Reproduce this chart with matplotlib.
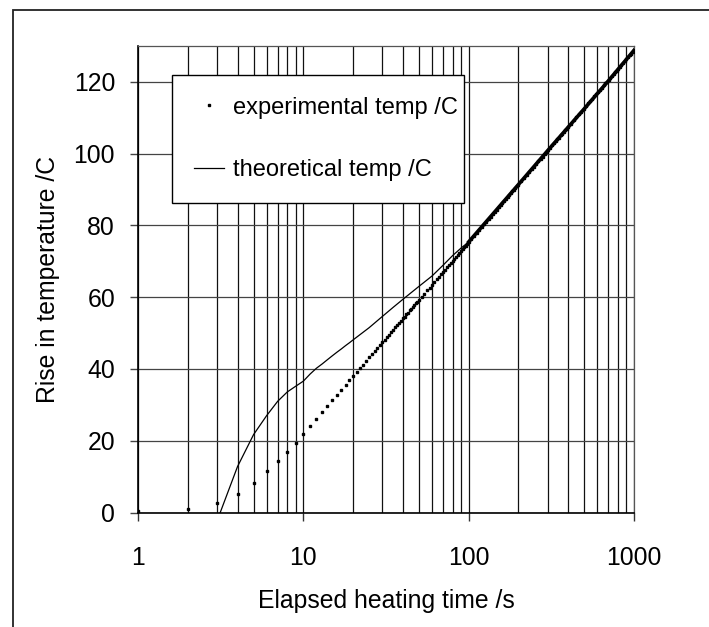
import matplotlib
matplotlib.use("Agg")
import matplotlib.pyplot as plt
from matplotlib.patches import Rectangle
from matplotlib.ticker import LogLocator, FixedLocator, NullFormatter

plt.rcParams["font.family"] = ["Liberation Sans", "DejaVu Sans"]

# experimental readings (time s, rise in temperature C)
exp_t = [1, 2, 3, 4, 5, 6, 7, 8, 9, 10,
         11, 12, 13, 14, 15, 16, 17, 18, 19, 20,
         21, 22, 23, 24, 25, 26, 27, 28, 29, 30,
         31, 32, 33, 34, 35, 36, 37, 38, 39, 40,
         41, 42, 43, 44, 45, 46, 47, 48, 49, 50,
         52, 54, 56, 58, 60, 62, 64, 66, 68, 70,
         72, 74, 76, 78, 80, 82, 84, 86, 88, 90,
         92, 94, 96, 98, 100,
         104, 108, 112, 116, 120, 124, 128, 132, 136, 140,
         144, 148, 152, 156, 160, 164, 168, 172, 176, 180,
         184, 188, 192, 196, 200,
         208, 216, 224, 232, 240, 248, 256, 264, 272, 280,
         288, 296, 304, 312, 320, 328, 336, 344, 352, 360,
         368, 376, 384, 392, 400,
         416, 432, 448, 464, 480, 496, 512, 528, 544, 560,
         576, 592, 608, 624, 640, 656, 672, 688, 704, 720,
         736, 752, 768, 784, 800,
         820, 840, 860, 880, 900, 920, 940, 960, 980, 1000]
exp_temp = [0.3, 0.9, 2.7, 5.1, 8.3, 11.5, 14.3, 17.0, 19.5, 21.9,
            24.1, 26.1, 28.0, 29.7, 31.3, 32.8, 34.2, 35.5, 36.8, 38.0,
            39.1, 40.2, 41.2, 42.2, 43.2, 44.1, 44.9, 45.8, 46.6, 47.4,
            48.1, 48.9, 49.6, 50.3, 51.0, 51.6, 52.2, 52.9, 53.5, 54.1,
            54.6, 55.2, 55.7, 56.3, 56.8, 57.3, 57.8, 58.3, 58.8, 59.2,
            60.1, 61.0, 61.9, 62.7, 63.5, 64.2, 65.0, 65.7, 66.4, 67.0,
            67.7, 68.3, 68.9, 69.5, 70.1, 70.7, 71.3, 71.8, 72.3, 72.9,
            73.4, 73.9, 74.4, 74.8, 75.3,
            76.2, 77.1, 77.9, 78.7, 79.5, 80.3, 81.0, 81.8, 82.4, 83.1,
            83.8, 84.4, 85.0, 85.6, 86.2, 86.8, 87.4, 87.9, 88.4, 89.0,
            89.5, 90.0, 90.5, 90.9, 91.4,
            92.3, 93.2, 94.0, 94.9, 95.6, 96.4, 97.1, 97.9, 98.5, 99.2,
            99.9, 100.5, 101.1, 101.7, 102.3, 102.9, 103.5, 104.0, 104.5, 105.1,
            105.6, 106.1, 106.6, 107.0, 107.5,
            108.4, 109.3, 110.1, 111.0, 111.7, 112.5, 113.2, 114.0, 114.7, 115.3,
            116.0, 116.6, 117.2, 117.8, 118.4, 119.0, 119.6, 120.1, 120.6, 121.2,
            121.7, 122.2, 122.7, 123.1, 123.6,
            124.2, 124.7, 125.3, 125.8, 126.4, 126.9, 127.4, 127.9, 128.3, 128.8]

# theoretical curve
theo_t = [3, 4, 5, 6, 7, 8, 9, 10, 11, 12, 13, 14, 15, 16, 17, 18, 19, 20,
          25, 30, 35, 40, 45, 50, 60, 70, 80, 90, 100, 200, 300, 500, 700, 1000]
theo_temp = [-2.5, 12.8, 21.7, 27.0, 31.0, 33.6, 35.2, 36.6, 38.6, 40.2,
             41.4, 42.6, 43.7, 44.7, 45.6, 46.5, 47.3, 48.1,
             51.5, 54.6, 57.2, 59.4, 61.3, 63.0, 65.9, 68.9, 71.6, 73.7,
             75.4, 91.4, 100.8, 112.5, 120.3, 128.8]

x_ticks = [1, 10, 100, 1000]
x_labels = ["1", "10", "100", "1000"]
y_ticks = [0, 20, 40, 60, 80, 100, 120]

FS = 17.8
LEG_FS = 17

fig = plt.figure(figsize=(7.09, 6.27), dpi=100)
ax = fig.add_axes([0.1946, 0.1826, 0.6996, 0.7440])

# page frame of the original sheet
fig.patches.append(Rectangle((13 / 709, -0.5), 2.0, 0.5 + (1 - 10 / 627),
                             transform=fig.transFigure, fill=False,
                             edgecolor="#222222", lw=1.3, clip_on=False))

ax.plot(theo_t, theo_temp, color="black", lw=0.9, label="theoretical temp /C",
        zorder=3)
# where the dense readings overlap the curve they read as one heavy line
ax.plot(theo_t[-6:], theo_temp[-6:], color="black", lw=2.6, zorder=3)
ax.plot(exp_t, exp_temp, ls="none", marker="s", ms=1.9, mec="black",
        mfc="black", label="experimental temp /C", zorder=4)

ax.set_xscale("log")
ax.set_xlim(1, 1000)
ax.set_ylim(0, 130)

ax.xaxis.set_major_locator(FixedLocator(x_ticks))
ax.set_xticklabels(x_labels)
ax.xaxis.set_minor_locator(LogLocator(base=10, subs=range(2, 10)))
ax.xaxis.set_minor_formatter(NullFormatter())
ax.set_yticks(y_ticks)

ax.grid(True, which="major", axis="x", color="#111111", lw=0.9)
ax.grid(True, which="minor", axis="x", color="#111111", lw=0.9)
ax.grid(True, which="major", axis="y", color="#444444", lw=0.9)
ax.set_axisbelow(True)

ax.tick_params(axis="x", which="major", direction="out", length=6, width=1,
               color="#333333", labelsize=FS, pad=18)
ax.tick_params(axis="x", which="minor", length=0)
ax.tick_params(axis="y", which="major", direction="out", length=6, width=1,
               color="#444444", labelsize=FS, pad=10.5)

for side in ("left", "bottom"):
    ax.spines[side].set_color("black")
    ax.spines[side].set_linewidth(1.2)
for side in ("top", "right"):
    ax.spines[side].set_color("#555555")
    ax.spines[side].set_linewidth(0.9)

ax.set_xlabel("Elapsed heating time /s", fontsize=FS, labelpad=14)
ax.set_ylabel("Rise in temperature /C", fontsize=FS, labelpad=9.5)

handles, labels = ax.get_legend_handles_labels()
leg = ax.legend(handles[::-1], labels[::-1], loc="upper left",
                bbox_to_anchor=(0.0685, 0.0, 0.5885, 0.938), mode="expand",
                borderaxespad=0, fontsize=LEG_FS, frameon=True, fancybox=False,
                framealpha=1, edgecolor="black", borderpad=0.92,
                labelspacing=1.72, handlelength=1.3, handletextpad=0.35,
                numpoints=1, markerscale=0.9)
leg.get_frame().set_linewidth(1.0)

fig.savefig("out.png", dpi=100)
